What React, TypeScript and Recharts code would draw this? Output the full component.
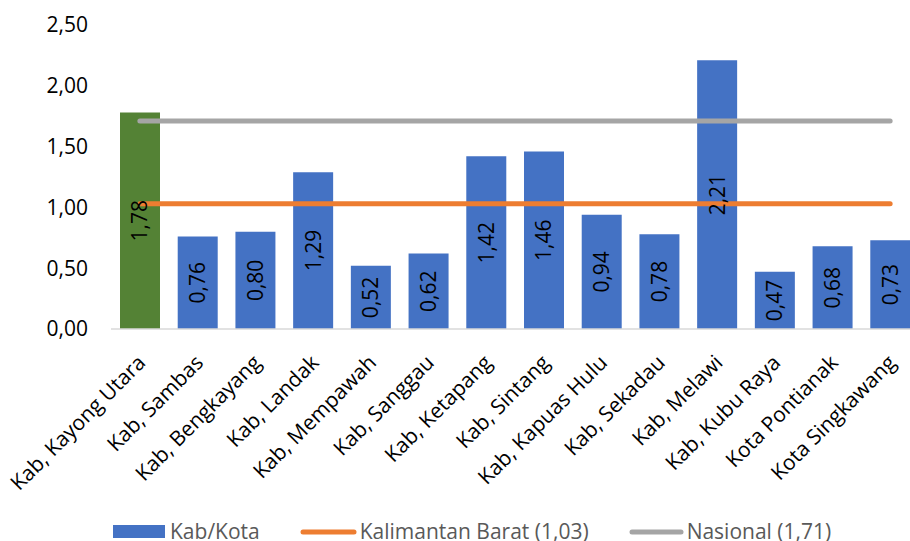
import React from "react";
import {
  ComposedChart,
  Bar,
  Line,
  Cell,
  XAxis,
  YAxis,
  Legend,
  LabelList,
} from "recharts";

const categories = [
  "Kab, Kayong Utara",
  "Kab, Sambas",
  "Kab, Bengkayang",
  "Kab, Landak",
  "Kab, Mempawah",
  "Kab, Sanggau",
  "Kab, Ketapang",
  "Kab, Sintang",
  "Kab, Kapuas Hulu",
  "Kab, Sekadau",
  "Kab, Melawi",
  "Kab, Kubu Raya",
  "Kota Pontianak",
  "Kota Singkawang",
];

const kabKotaValues = [1.78, 0.76, 0.8, 1.29, 0.52, 0.62, 1.42, 1.46, 0.94, 0.78, 2.21, 0.47, 0.68, 0.73];
const kalbarValues = [1.03, 1.03, 1.03, 1.03, 1.03, 1.03, 1.03, 1.03, 1.03, 1.03, 1.03, 1.03, 1.03, 1.03];
const nasionalValues = [1.71, 1.71, 1.71, 1.71, 1.71, 1.71, 1.71, 1.71, 1.71, 1.71, 1.71, 1.71, 1.71, 1.71];
const yTicks = [0, 0.5, 1, 1.5, 2, 2.5];

const FONT = '"Open Sans", sans-serif';
const BLUE = "#4472C4";
const GREEN = "#548235";
const ORANGE = "#ED7D31";
const GRAY = "#A5A5A5";

const data = categories.map((name, i) => ({
  name,
  value: kabKotaValues[i],
  kalbar: kalbarValues[i],
  nasional: nasionalValues[i],
}));

const fmt = (v: number) => Number(v).toFixed(2).replace(".", ",");

function CategoryTick(props: any) {
  const { x, y, payload } = props;
  return (
    <g transform={`translate(${x + 7},${y + 35})`}>
      <text
        textAnchor="end"
        transform="rotate(-45)"
        fontSize={21}
        fontFamily={FONT}
        fill="#000"
      >
        {payload.value}
      </text>
    </g>
  );
}

function LegendContent() {
  const item = { display: "flex", alignItems: "flex-start", marginRight: 40 };
  return (
    <div
      style={{
        display: "flex",
        alignItems: "flex-start",
        height: 24,
        paddingLeft: 113,
        fontSize: 21,
        lineHeight: "29px",
        color: "#595959",
        fontFamily: FONT,
        whiteSpace: "nowrap",
      }}
    >
      <div style={item}>
        <svg width={52} height={24}>
          <rect x={0} y={8} width={52} height={13} fill={BLUE} />
        </svg>
        <span style={{ marginLeft: 5 }}>Kab/Kota</span>
      </div>
      <div style={item}>
        <svg width={57} height={24}>
          <line x1={3} y1={15} x2={54} y2={15} stroke={ORANGE} strokeWidth={5} strokeLinecap="round" />
        </svg>
        <span style={{ marginLeft: 3 }}>Kalimantan Barat (1,03)</span>
      </div>
      <div style={item}>
        <svg width={55} height={24}>
          <line x1={3} y1={15} x2={52} y2={15} stroke={GRAY} strokeWidth={5} strokeLinecap="round" />
        </svg>
        <span style={{ marginLeft: 3 }}>Nasional (1,71)</span>
      </div>
    </div>
  );
}

export default function App() {
  return (
    <div
      style={{
        position: "absolute",
        left: 0,
        top: 0,
        width: 910,
        height: 541,
        overflow: "hidden",
        background: "#fff",
        fontFamily: FONT,
      }}
    >
      <ComposedChart
        width={920}
        height={541}
        data={data}
        margin={{ top: 25, right: 1, bottom: 0, left: 0 }}
      >
        <XAxis
          dataKey="name"
          interval={0}
          height={188}
          tickSize={0}
          tickMargin={0}
          tickLine={false}
          axisLine={{ stroke: "#D9D9D9", strokeWidth: 1.5 }}
          tick={<CategoryTick />}
        />
        <XAxis xAxisId="lbl" dataKey="name" hide />
        <YAxis
          width={111}
          domain={[0, 2.5]}
          ticks={yTicks}
          tickFormatter={fmt}
          axisLine={false}
          tickLine={false}
          tickSize={0}
          tickMargin={23}
          tick={{ fontSize: 21, fill: "#000", fontFamily: FONT }}
        />
        <Bar dataKey="value" name="Kab/Kota" barSize={40} fill={BLUE} isAnimationActive={false}>
          {data.map((d, i) => (
            <Cell key={d.name} fill={i === 0 ? GREEN : BLUE} />
          ))}
        </Bar>
        <Line
          dataKey="kalbar"
          name="Kalimantan Barat (1,03)"
          stroke={ORANGE}
          strokeWidth={5}
          strokeLinecap="round"
          dot={false}
          activeDot={false}
          isAnimationActive={false}
        />
        <Line
          dataKey="nasional"
          name="Nasional (1,71)"
          stroke={GRAY}
          strokeWidth={5}
          strokeLinecap="round"
          dot={false}
          activeDot={false}
          isAnimationActive={false}
        />
        {/* invisible copy of the bars so the value labels sit above the lines */}
        <Bar
          xAxisId="lbl"
          dataKey="value"
          barSize={40}
          fill="transparent"
          legendType="none"
          isAnimationActive={false}
        >
          <LabelList
            dataKey="value"
            position="center"
            angle={-90}
            formatter={(v: any) => fmt(v)}
            style={{ fontSize: 21, fill: "#000", fontFamily: FONT }}
          />
        </Bar>
        <Legend verticalAlign="bottom" align="left" content={<LegendContent />} />
      </ComposedChart>
    </div>
  );
}
